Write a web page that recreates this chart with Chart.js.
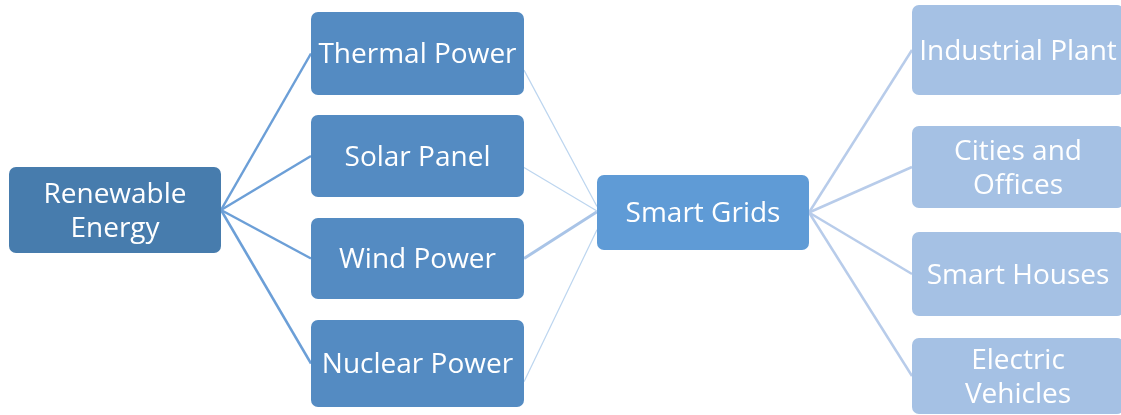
<!DOCTYPE html>
<html>
<head>
<meta charset="utf-8">
<title>Smart Grids</title>
<script src="https://cdn.jsdelivr.net/npm/chart.js@4/dist/chart.umd.min.js"></script>
<style>
    html, body { margin: 0; padding: 0; background: #fff; overflow: hidden; }
    #diagram { display: block; }
</style>
</head>
<body>
<canvas id="diagram" width="1121" height="415"></canvas>
<script>
// node labels, one array per level of the tree
const rootLabels = [['Renewable', 'Energy']];
const sourceLabels = [['Thermal Power'], ['Solar Panel'], ['Wind Power'], ['Nuclear Power']];
const hubLabels = [['Smart Grids']];
const consumerLabels = [['Industrial Plant'], ['Cities and', 'Offices'], ['Smart Houses'], ['Electric', 'Vehicles']];

// layout of the boxes in diagram units (x: 0..1121, y: 0..415 from the top)
const columnX = { root: [9, 221], source: [311, 524], hub: [597, 809], consumer: [912, 1124] };
const rootRows = [[167, 253]];
const sourceRows = [[12, 95], [115, 197], [218, 299], [320, 407]];
const hubRows = [[175, 250]];
const consumerRows = [[5, 95], [126, 208], [232, 316], [338, 414]];

// where each connector leaves / meets a box side (fraction of the box height)
const sourceOutAnchor = [0.7, 0.64, 0.5, 0.71];
const hubInAnchor = [0.42, 0.48, 0.49, 0.73];

const levelStyle = {
    root: { fill: '#477CAD' },
    source: { fill: '#548BC2' },
    hub: { fill: '#5F9BD6' },
    consumer: { fill: '#A5C1E4' }
};

function makeNodes(labels, rows, col) {
    return labels.map((lines, i) => ({
        lines,
        x0: columnX[col][0],
        x1: columnX[col][1],
        y0: rows[i][0],
        y1: rows[i][1],
        fill: levelStyle[col].fill
    }));
}

const rootNodes = makeNodes(rootLabels, rootRows, 'root');
const sourceNodes = makeNodes(sourceLabels, sourceRows, 'source');
const hubNodes = makeNodes(hubLabels, hubRows, 'hub');
const consumerNodes = makeNodes(consumerLabels, consumerRows, 'consumer');
const allNodes = [...rootNodes, ...sourceNodes, ...hubNodes, ...consumerNodes];

function rightAt(n, f) { return { x: n.x1, y: n.y0 + (n.y1 - n.y0) * f }; }
function leftAt(n, f) { return { x: n.x0, y: n.y0 + (n.y1 - n.y0) * f }; }

function connector(a, b, color, width) {
    return {
        type: 'line',
        data: [a, b],
        borderColor: color,
        borderWidth: width,
        pointRadius: 0,
        showLine: true,
        fill: false
    };
}

const datasets = [];
sourceNodes.forEach((s) => {
    datasets.push(connector(rightAt(rootNodes[0], 0.5), leftAt(s, 0.5), '#6C9FD7', 2.5));
});
sourceNodes.forEach((s, i) => {
    const heavy = i === 2;
    datasets.push(connector(rightAt(s, sourceOutAnchor[i]), leftAt(hubNodes[0], hubInAnchor[i]),
        heavy ? '#A9C4E7' : '#BCD5EF', heavy ? 3 : 1.2));
});
consumerNodes.forEach((c) => {
    datasets.push(connector(rightAt(hubNodes[0], 0.5), leftAt(c, 0.5), '#B8CCEA', 2.5));
});

const boxPlugin = {
    id: 'boxes',
    afterDatasetsDraw(chart) {
        const { ctx, scales } = chart;
        const sx = scales.x;
        const sy = scales.y;
        ctx.save();
        allNodes.forEach((n) => {
            const left = sx.getPixelForValue(n.x0);
            const right = sx.getPixelForValue(n.x1);
            const top = sy.getPixelForValue(n.y0);
            const bottom = sy.getPixelForValue(n.y1);
            ctx.beginPath();
            ctx.roundRect(left, top, right - left, bottom - top, 7);
            ctx.fillStyle = n.fill;
            ctx.fill();

            ctx.fillStyle = '#ffffff';
            ctx.font = '28px "Open Sans", "Noto Sans", sans-serif';
            ctx.textAlign = 'center';
            ctx.textBaseline = 'middle';
            const lineH = 34;
            const cx = (left + right) / 2;
            const cy = (top + bottom) / 2 + 2;
            const startY = cy - ((n.lines.length - 1) * lineH) / 2;
            n.lines.forEach((t, k) => ctx.fillText(t, cx, startY + k * lineH));
        });
        ctx.restore();
    }
};

new Chart(document.getElementById('diagram').getContext('2d'), {
    type: 'scatter',
    data: { datasets },
    options: {
        responsive: false,
        animation: false,
        layout: { padding: 0 },
        plugins: { legend: { display: false }, tooltip: { enabled: false } },
        scales: {
            x: { type: 'linear', min: 0, max: 1121, display: false },
            y: { type: 'linear', min: 0, max: 415, reverse: true, display: false }
        }
    },
    plugins: [boxPlugin]
});
</script>
</body>
</html>
